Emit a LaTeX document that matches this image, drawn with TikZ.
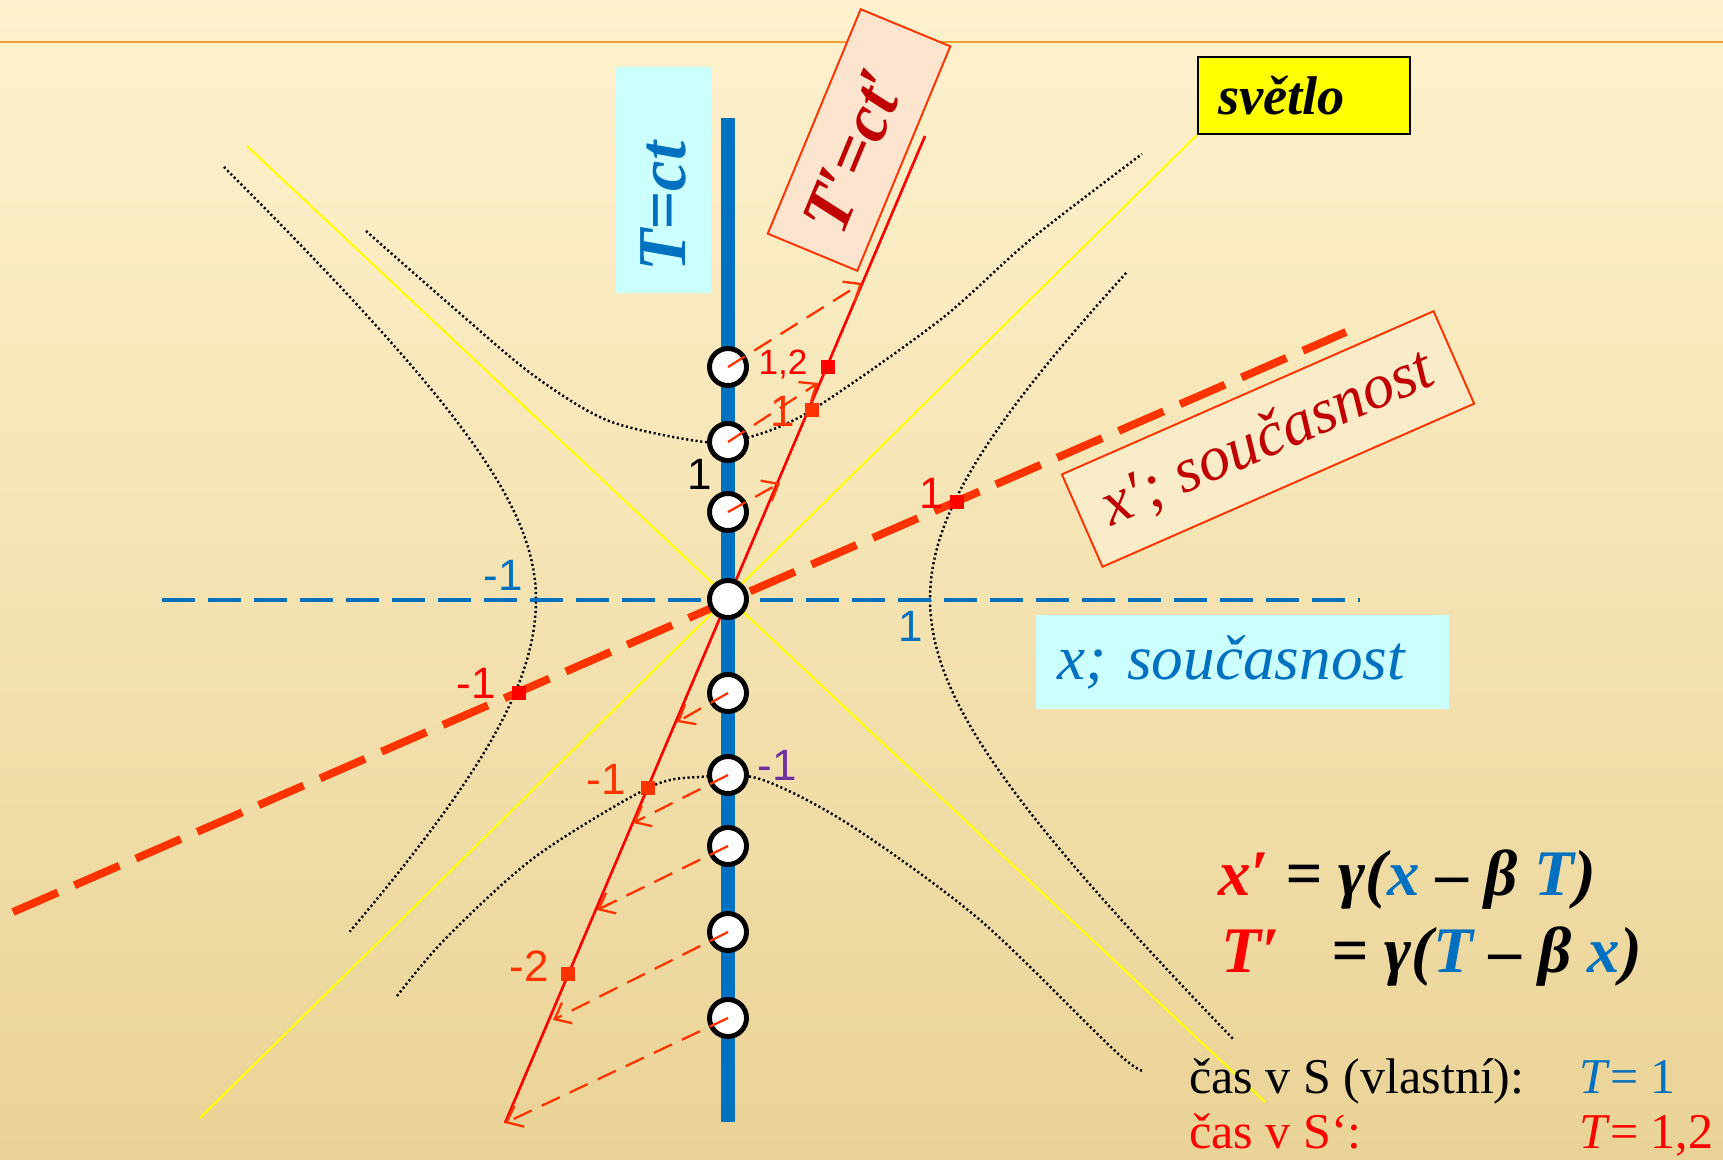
\documentclass[tikz,border=0pt]{standalone}
\usepackage{fontspec}
\setmainfont{Liberation Serif}
\newfontfamily\labelfont{Liberation Sans}
\usepackage{tikz}
\usetikzlibrary{arrows.meta,positioning}
\definecolor{axisblue}{HTML}{0070C0}
\definecolor{boostred}{HTML}{FF3300}
\definecolor{purered}{HTML}{FF0000}
\definecolor{darkred}{HTML}{C00000}
\definecolor{lightcyan}{HTML}{CCFFFF}
\definecolor{peach}{HTML}{FDE4CF}
\definecolor{cream}{HTML}{FBECC9}
\definecolor{lightyel}{HTML}{FFFF00}
\definecolor{rulecol}{HTML}{F0A030}
\definecolor{violet}{HTML}{7030A0}
\definecolor{bgtop}{HTML}{FEF2CE}
\definecolor{bgmid}{HTML}{F8E6B4}
\definecolor{bgbot}{HTML}{EAD396}

\begin{document}
\begin{tikzpicture}[x=0.02cm,y=-0.02cm,
  event/.style={circle,draw=black,fill=white,line width=2.8pt,
    minimum size=0.74cm,inner sep=0pt},
  unitsq/.style={rectangle,fill=#1,minimum size=0.27cm,inner sep=0pt},
  num/.style={text=#1,inner sep=0pt,font=\labelfont\fontsize{25pt}{28pt}\selectfont},
  hyper/.style={line width=1.4pt,dash pattern=on 1.2pt off 1.5pt},
  light/.style={draw=lightyel,line width=1.2pt},
  proj/.style={draw=boostred,line width=1.3pt,dash pattern=on 0.4cm off 0.22cm,
    -{Straight Barb[length=0.28cm,width=0.46cm,line width=1.3pt]}},
  bigsf/.style={font=\bfseries\itshape\fontsize{39pt}{40pt}\selectfont},
  eq/.style={anchor=base west,inner sep=0pt,font=\bfseries\itshape\fontsize{37pt}{40pt}\selectfont},
  note/.style={anchor=base west,inner sep=0pt,font=\fontsize{28.5pt}{32pt}\selectfont}]
\shade[top color=bgtop,middle color=bgmid,bottom color=bgbot] (0,0) rectangle (1723,1159);
\useasboundingbox (0,0) rectangle (1723,1159);
\draw[rulecol,line width=1.6pt] (0,42) -- (1723,42);

% labels of the axes
\node[rotate=90,fill=lightcyan,minimum width=4.52cm,minimum height=1.9cm,
  text width=3.68cm,inner xsep=0.42cm,align=left,text=axisblue,bigsf]
  (tbox) at (663.5,180) {T=ct};
\node[rotate=67.5,fill=peach,draw=boostred,line width=1.1pt,minimum width=4.86cm,
  minimum height=1.94cm,text width=3.86cm,inner xsep=0.5cm,align=left,
  text=darkred,bigsf] (tpbox) at (859,140) {T′=ct′};
\node[rotate=23.7,fill=cream,draw=boostred,line width=1.1pt,minimum width=8.12cm,
  minimum height=2.02cm,text=darkred,font=\itshape\fontsize{36pt}{40pt}\selectfont]
  (xpbox) at (1268,439) {x′; současnost};
\node[fill=lightcyan,minimum width=8.26cm,minimum height=1.88cm,text width=7.42cm,
  inner xsep=0.42cm,align=left,text=axisblue,font=\itshape\fontsize{36pt}{40pt}\selectfont]
  (xbox) at (1242.5,662) {x; současnost};
\node[fill=lightyel,draw=black,line width=1.1pt,minimum width=4.24cm,minimum height=1.54cm,
  text width=3.44cm,inner xsep=0.4cm,align=left,
  font=\bfseries\itshape\fontsize{31pt}{32pt}\selectfont] (svetlo) at (1304,95.5) {světlo};

% light cone
\coordinate (la1) at (247,146);
\coordinate (la2) at (1265,1102);
\coordinate (lb1) at (200,1118);
\draw[light] (la1) -- (la2);
\draw[light] (lb1) -- (svetlo.south west);

% unit hyperbolas
\draw[hyper] plot[smooth] coordinates {(366,231) (456,310) (533,375) (609,421)
  (705,442) (750,437) (812,410) (940,320) (1030,240) (1142,154)};
\draw[hyper] plot[smooth] coordinates {(397,996) (446,938) (535,857) (648,788)
  (699,777) (760,779) (850,825) (980,920) (1114,1050) (1143,1071)};
\draw[hyper] plot[domain=-1.62:0,samples=40] ({728-192*cosh(\x)},{599+178*sinh(\x)})
  -- plot[domain=0:1.30,samples=40] ({728-192*cosh(\x)},{599+196*sinh(\x)});
\draw[hyper] plot[domain=-1.30:1.57,samples=60] ({728+202*cosh(\x)},{599+192*sinh(\x)});

% axes of S and S'
\coordinate (ttop) at (728,118);
\coordinate (tbot) at (728,1122);
\coordinate (xl) at (162,600);
\coordinate (xr) at (1360,600);
\coordinate (xpl) at (13,912);
\coordinate (xpr) at (1346,332);
\coordinate (tpbot) at (505,1123);
\coordinate (tptop) at (925,136);
\draw[axisblue,line width=8.5pt] (tbot) -- (ttop);
\draw[axisblue,line width=2.3pt,dash pattern=on 0.66cm off 0.26cm] (xl) -- (xr);
\draw[boostred,line width=4.5pt,dash pattern=on 0.98cm off 0.36cm] (xpl) -- (xpr);
\draw[purered,line width=1.5pt] (tpbot) -- (tptop);

% events on the world line
\node[event] (tp3) at (728,367) {};
\node[event] (tp2) at (728,442) {};
\node[event] (tp1) at (728,512) {};
\node[event] (orig) at (728,599) {};
\node[event] (tm1) at (728,693) {};
\node[event] (tm2) at (728,775) {};
\node[event] (tm3) at (728,846) {};
\node[event] (tm4) at (728,932) {};
\node[event] (tm5) at (728,1018) {};

\node[unitsq=purered] (sq12) at (828,367) {};
\node[unitsq=boostred] (sqt1) at (812,410) {};
\node[unitsq=purered] (sqx1) at (957,502) {};
\node[unitsq=purered] (sqxm1) at (519,693) {};
\node[unitsq=boostred] (sqtm1) at (648,788) {};
\node[unitsq=boostred] (sqtm2) at (568,974) {};

% projections onto the T' axis
\coordinate (pp1) at (780,483);
\coordinate (pp2) at (818,383);
\coordinate (pp3) at (862,283);
\coordinate (pm1) at (677,722);
\coordinate (pm2) at (633,823);
\coordinate (pm3) at (597,910);
\coordinate (pm4) at (553,1020);
\coordinate (pm5) at (505,1123);
\draw[proj] (tp1.center) -- (pp1);
\draw[proj] (tp2.center) -- (pp2);
\draw[proj] (tp3.center) -- (pp3);
\draw[proj] (tm1.center) -- (pm1);
\draw[proj] (tm2.center) -- (pm2);
\draw[proj] (tm3.center) -- (pm3);
\draw[proj] (tm4.center) -- (pm4);
\draw[proj] (tm5.center) -- (pm5);

\node[num=purered,font=\labelfont\fontsize{20pt}{22pt}\selectfont] (l12) at (783,364) {1,2};
\node[num=boostred] (lt1) at (783,411) {1};
\node[num=black] (lT1) at (700,474) {1};
\node[num=purered] (lx1) at (932,493) {1};
\node[num=axisblue] (lxm1) at (503,575) {-1};
\node[num=axisblue] (lxb1) at (911,626) {1};
\node[num=purered] (lxpm1) at (476,683) {-1};
\node[num=violet] (lTm1) at (777,765) {-1};
\node[num=boostred] (ltm1) at (606,779) {-1};
\node[num=boostred] (ltm2) at (529,966) {-2};

% Lorentz transformation
\node[eq] (eqx) at (1218,895)
  {{\color{purered}x′} = γ({\color{axisblue}x} – β {\color{axisblue}T})};
\node[eq] (eqt) at (1221,972)
  {{\color{purered}T′}\hspace{0.8em}= γ({\color{axisblue}T} – β {\color{axisblue}x})};

\node[note] (casS) at (1189,1093) {čas v S (vlastní):};
\node[note,text=axisblue] (valS) at (1579,1093) {\textit{T}= 1};
\node[note,text=purered] (casSp) at (1189,1148) {čas v S‘:};
\node[note,text=purered] (valSp) at (1579,1148) {\textit{T}= 1,2};
\end{tikzpicture}
\end{document}
